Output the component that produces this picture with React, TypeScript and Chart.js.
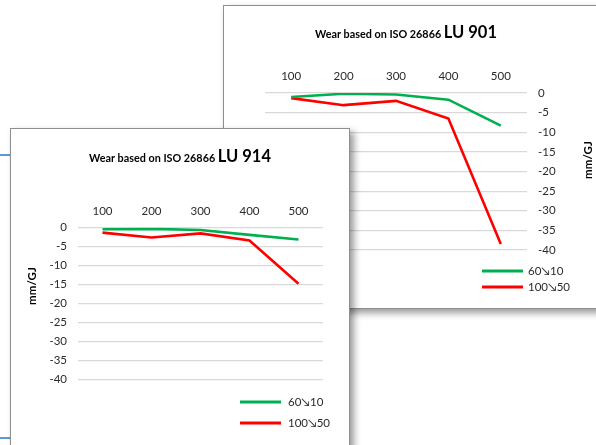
import React, { useEffect, useRef } from 'react';
import { Chart, registerables } from 'chart.js';

Chart.register(...registerables);

// ---------- data ----------
const loadSteps = ['100', '200', '300', '400', '500'];
const seriesNames = ['60\u219810', '100\u219850'];
const seriesColors = ['#00b050', '#ff0000'];

const lu901Green = [-1.0, -0.2, -0.4, -1.7, -8.3];
const lu901Red = [-1.3, -3.1, -2.0, -6.5, -38.5];

const lu914Green = [-0.4, -0.3, -0.6, -1.9, -3.1];
const lu914Red = [-1.3, -2.6, -1.5, -3.4, -14.8];

const yMin = -40;
const yMax = 0;
const yStep = 5;
const yAxisTitle = 'mm/GJ';
const titleSmall = 'Wear based on ISO 26866 ';

const FONT = 'Lato, "Liberation Sans", sans-serif';
const TEXT = '#2b2b2b';

type PanelCfg = {
  width: number;
  height: number;
  titleBig: string;
  series: number[][];
  yPos: 'left' | 'right';
  padding: { left: number; right: number; top: number; bottom: number };
  titleX: number;
  titleY: number;
  yTitleX: number;
  yTitleY: number;
  legendX: number;
  legendY: number;
  legendGap: number;
  legendTextOffset: number;
};

function makeChart(canvas: HTMLCanvasElement, cfg: PanelCfg) {
  const decor = {
    id: 'decor',
    afterDraw(chart: any) {
      const ctx = chart.ctx as CanvasRenderingContext2D;
      ctx.save();
      // title with two font sizes
      ctx.fillStyle = '#000000';
      ctx.textBaseline = 'alphabetic';
      ctx.textAlign = 'left';
      const f1 = `bold 10.8px ${FONT}`;
      const f2 = `bold 16.5px ${FONT}`;
      ctx.font = f1;
      const w1 = ctx.measureText(titleSmall).width;
      ctx.font = f2;
      const w2 = ctx.measureText(cfg.titleBig).width;
      const x0 = cfg.titleX - (w1 + w2) / 2;
      ctx.font = f1;
      ctx.fillText(titleSmall, x0, cfg.titleY);
      ctx.font = f2;
      ctx.fillText(cfg.titleBig, x0 + w1, cfg.titleY);

      // y axis title, reading bottom to top
      ctx.save();
      ctx.translate(cfg.yTitleX, cfg.yTitleY);
      ctx.rotate(-Math.PI / 2);
      ctx.font = `bold 11.5px ${FONT}`;
      ctx.textAlign = 'center';
      ctx.textBaseline = 'middle';
      ctx.fillText(yAxisTitle, 0, 0);
      ctx.restore();

      // legend (vertical list)
      chart.data.datasets.forEach((ds: any, i: number) => {
        const y = cfg.legendY + i * cfg.legendGap;
        ctx.beginPath();
        ctx.strokeStyle = ds.borderColor;
        ctx.lineWidth = 3;
        ctx.moveTo(cfg.legendX, y);
        ctx.lineTo(cfg.legendX + 41, y);
        ctx.stroke();
        ctx.fillStyle = TEXT;
        ctx.font = `11.5px ${FONT}`;
        ctx.textAlign = 'left';
        ctx.textBaseline = 'middle';
        ctx.fillText(ds.label, cfg.legendX + cfg.legendTextOffset, y + 0.5);
      });
      ctx.restore();
    },
  };

  return new Chart(canvas, {
    type: 'line',
    data: {
      labels: loadSteps,
      datasets: cfg.series.map((vals, i) => ({
        label: seriesNames[i],
        data: vals,
        borderColor: seriesColors[i],
        backgroundColor: seriesColors[i],
        borderWidth: 2.6,
        pointRadius: 0,
        tension: 0,
        fill: false,
      })),
    },
    options: {
      responsive: false,
      animation: false,
      devicePixelRatio: 1,
      layout: { padding: cfg.padding },
      plugins: {
        legend: { display: false },
        title: { display: false },
        tooltip: { enabled: false },
      },
      scales: {
        x: {
          type: 'category',
          position: 'top',
          offset: true,
          grid: { display: false, drawTicks: false },
          border: { display: false },
          ticks: {
            color: TEXT,
            font: { family: FONT, size: 11.5 },
            padding: 10,
            maxRotation: 0,
          },
          afterFit(scale: any) {
            scale.height = 40;
          },
        },
        y: {
          type: 'linear',
          position: cfg.yPos,
          min: yMin,
          max: yMax,
          grid: { color: '#d9d9d9', lineWidth: 1.2, drawTicks: false },
          border: { display: false },
          ticks: {
            stepSize: yStep,
            color: TEXT,
            font: { family: FONT, size: 11.5 },
            padding: 11,
          },
          afterFit(scale: any) {
            scale.width = 50;
          },
        },
      },
    },
    plugins: [decor],
  } as any);
}

const cfg901: PanelCfg = {
  width: 380,
  height: 302,
  titleBig: 'LU 901',
  series: [lu901Green, lu901Red],
  yPos: 'right',
  padding: { left: 41, right: 27, top: 47, bottom: 58 },
  titleX: 182,
  titleY: 31.5,
  yTitleX: 364,
  yTitleY: 154,
  legendX: 258,
  legendY: 265,
  legendGap: 16,
  legendTextOffset: 46,
};

const cfg914: PanelCfg = {
  width: 338,
  height: 330,
  titleBig: 'LU 914',
  series: [lu914Green, lu914Red],
  yPos: 'left',
  padding: { left: 17, right: 26, top: 58.7, bottom: 79.7 },
  titleX: 169,
  titleY: 32.7,
  yTitleX: 21,
  yTitleY: 157,
  legendX: 229,
  legendY: 273,
  legendGap: 21,
  legendTextOffset: 48,
};

function Panel({ cfg, left, top, z }: { cfg: PanelCfg; left: number; top: number; z: number }) {
  const ref = useRef<HTMLCanvasElement | null>(null);
  useEffect(() => {
    if (!ref.current) return;
    const chart = makeChart(ref.current, cfg);
    return () => chart.destroy();
  }, [cfg]);
  return (
    <div
      style={{
        position: 'absolute',
        left,
        top,
        zIndex: z,
        border: '1px solid #8f8f8f',
        background: '#ffffff',
        boxShadow: '4px 4px 7px rgba(0,0,0,0.4)',
        width: cfg.width,
        height: cfg.height,
      }}
    >
      <canvas ref={ref} width={cfg.width} height={cfg.height} style={{ display: 'block' }} />
    </div>
  );
}

export default function App() {
  return (
    <div
      style={{
        position: 'fixed',
        left: 0,
        top: 0,
        width: 596,
        height: 445,
        overflow: 'hidden',
        background: '#ffffff',
      }}
    >
      <div style={{ position: 'absolute', left: 0, top: 154, width: 12, height: 2, background: '#5b9bd5', zIndex: 0 }} />
      <div style={{ position: 'absolute', left: 0, top: 437, width: 10, height: 2, background: '#5b9bd5', zIndex: 0 }} />
      <Panel cfg={cfg901} left={223} top={5} z={1} />
      <Panel cfg={cfg914} left={10} top={128} z={2} />
    </div>
  );
}
